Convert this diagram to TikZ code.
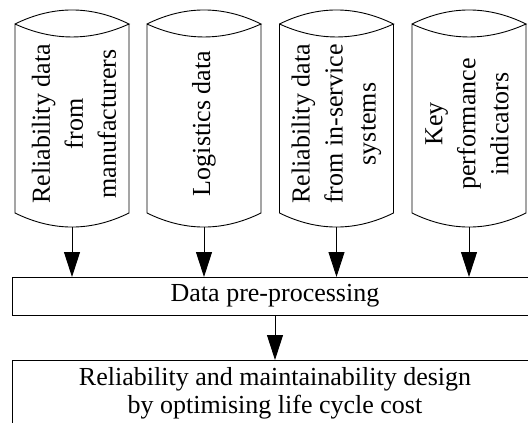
\documentclass[tikz,border=0pt]{standalone}
\usepackage{fontspec}
\setmainfont{Liberation Serif}
\usetikzlibrary{arrows.meta,calc}
\begin{document}
\begin{tikzpicture}[x=1pt,y=-1pt,line width=0.9pt,
  drum/.style={minimum width=114pt,minimum height=189pt,inner sep=0pt,outer sep=0pt},
  lbl/.style={rotate=90,align=center,inner sep=0pt,font=\fontsize{26}{33}\selectfont},
  box/.style={draw,line width=0.9pt,inner sep=0pt,outer sep=0pt,minimum width=526pt,align=center,font=\fontsize{26}{28}\selectfont},
  arr/.style={line width=0.9pt,-{Triangle[length=25pt,width=16pt]}}]
\useasboundingbox (0,0) rectangle (528,423);
\clip (0,0) rectangle (528,423);
\foreach \n/\x in {s1/72,s2/204,s3/336.5,s4/469}{
  \node[drum] (\n) at (\x,118.5) {};
  \draw (\n.north west) .. controls ($(\n.north west)+(38,-18.7)$) and ($(\n.north east)+(-38,-18.7)$) .. (\n.north east)
     .. controls ($(\n.north east)+(-38,17.3)$) and ($(\n.north west)+(38,17.3)$) .. (\n.north west)
     -- (\n.south west)
     .. controls ($(\n.south west)+(38,18.7)$) and ($(\n.south east)+(-38,18.7)$) .. (\n.south east)
     -- (\n.north east);
}
\coordinate (s1b) at ($(s1.south)+(0,14)$);
\coordinate (s2b) at ($(s2.south)+(0,14)$);
\coordinate (s3b) at ($(s3.south)+(0,14)$);
\coordinate (s4b) at ($(s4.south)+(0,14)$);
\node[lbl] (t1) at ($(s1.center)+(2,5.5)$) {Reliability data\\from\\manufacturers};
\node[lbl] (t2) at ($(s2.center)+(0,5)$) {Logistics data};
\node[lbl] (t3) at ($(s3.center)+(0,5.5)$) {Reliability data\\from in-service\\systems};
\node[lbl] (t4) at ($(s4.center)+(-2,5.5)$) {Key\\performance\\indicators};
\node[box,minimum height=38pt] (pre) at (275,296) {Data pre-processing};
\node[box,minimum height=66pt] (rmd) at (275,393) {Reliability and maintainability design\\by optimising life cycle cost};
\draw[arr] (s1b) -- (s1b |- pre.north);
\draw[arr] (s2b) -- (s2b |- pre.north);
\draw[arr] (s3b) -- (s3b |- pre.north);
\draw[arr] (s4b) -- (s4b |- pre.north);
\draw[arr] (pre.south) -- (rmd.north);
\end{tikzpicture}
\end{document}
